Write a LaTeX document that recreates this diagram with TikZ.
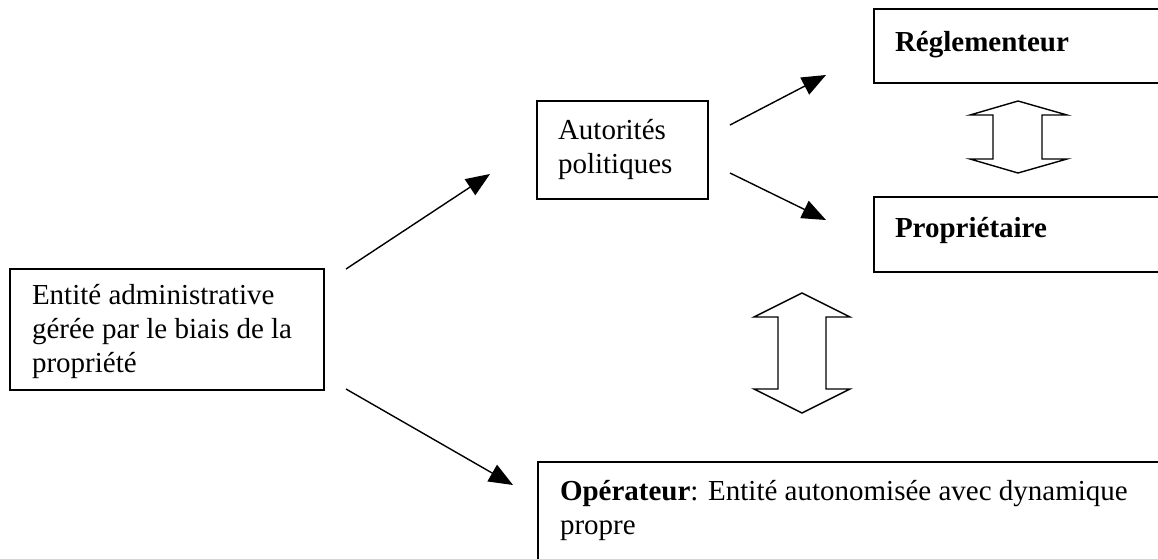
\documentclass[tikz,border=0pt]{standalone}
\usepackage{fontspec}
\setmainfont{Liberation Serif}
\usetikzlibrary{arrows.meta,calc}

\begin{document}
\begin{tikzpicture}[
    x=1pt, y=-1pt,
    font=\fontsize{29}{34}\selectfont,
    box/.style={
        draw=black,
        line width=1.3pt,
        anchor=north west,
        align=flush left,
        inner xsep=21pt,
        inner ysep=0pt,
        outer sep=0pt
    },
    arrow/.style={-{Triangle[length=24pt, width=19pt]}, draw=black, line width=1.4pt},
    bigarrow/.style={draw=black, fill=white, line width=1.4pt, line join=miter}
]
\useasboundingbox (0,0) rectangle (1158,558);

% Boxes.
\node[box, inner xsep=22pt, text width=270pt, text height=35pt, text depth=86pt] (entite) at (10,269)
    {Entité administrative\\gérée par le biais de la\\propriété};
\node[box, text width=129pt, text height=38pt, text depth=60pt] (autorites) at (537,101)
    {Autorités\\politiques};
\node[box, text width=274pt, text height=42pt, text depth=32pt, font=\fontsize{29}{34}\selectfont\bfseries] (regl) at (874,9)
    {Réglementeur};
\node[box, text width=274pt, text height=40pt, text depth=35pt, font=\fontsize{29}{34}\selectfont\bfseries] (prop) at (874,197)
    {Propriétaire};
\node[box, inner xsep=22pt, text width=608pt, text height=38pt, text depth=100pt] (oper) at (538,462)
    {\textbf{Opérateur}: Entité autonomisée avec dynamique\\propre};

% Arrow ends.
\coordinate (a1s) at ($(entite.north east)+(22,0)$);
\coordinate (a1e) at ($(autorites.south west)+(-47,-25)$);
\coordinate (a2s) at ($(autorites.north east)+(22,24)$);
\coordinate (a2e) at ($(regl.south west)+(-48,-8)$);
\coordinate (a3s) at ($(autorites.south east)+(22,-26)$);
\coordinate (a3e) at ($(prop.north west)+(-48,23)$);
\coordinate (a4s) at ($(entite.south east)+(22,-1)$);
\coordinate (a4e) at ($(oper.north west)+(-25,23)$);

\draw[arrow] (a1s) -- (a1e);
\draw[arrow] (a2s) -- (a2e);
\draw[arrow] (a3s) -- (a3e);
\draw[arrow] (a4s) -- (a4e);

% Double block arrows.
\draw[bigarrow] (1018,101) -- (1067,115) -- (1042,115) -- (1042,159) -- (1067,159)
    -- (1018,173) -- (970,159) -- (993,159) -- (993,115) -- (970,115) -- cycle;
\draw[bigarrow] (802,293) -- (850,317) -- (826,317) -- (826,389) -- (850,389)
    -- (802,413) -- (754,389) -- (778,389) -- (778,317) -- (754,317) -- cycle;

\end{tikzpicture}
\end{document}
